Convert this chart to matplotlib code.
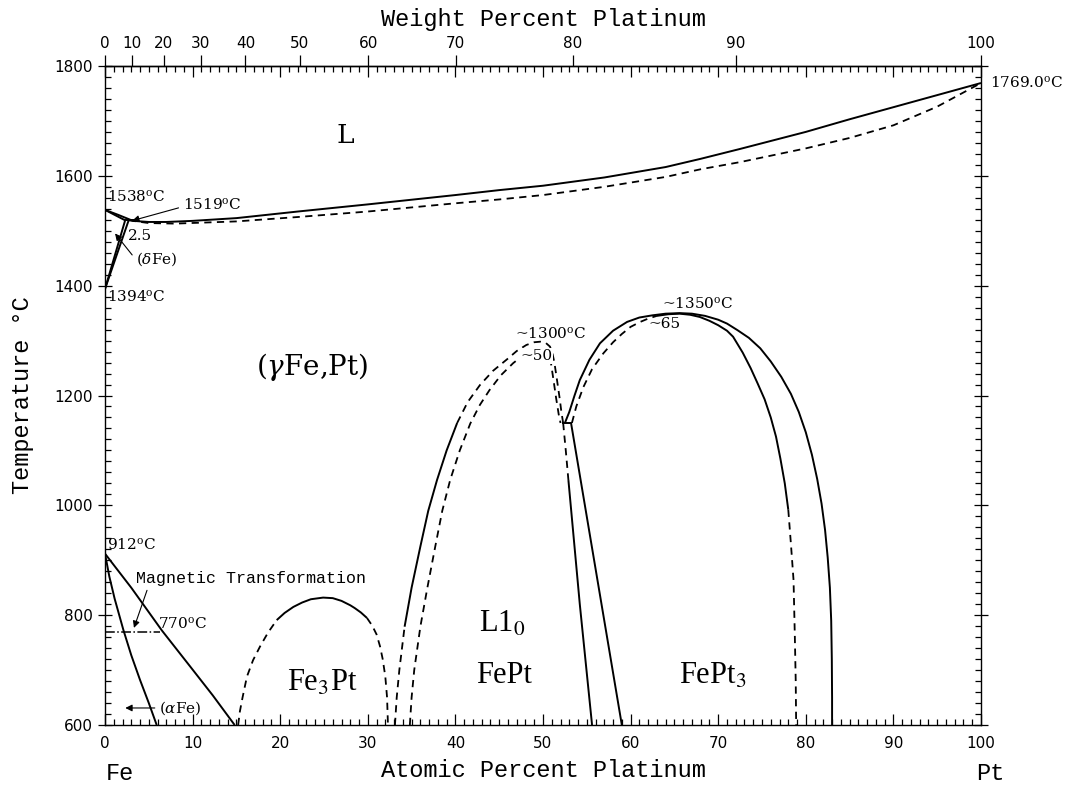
import numpy as np
import matplotlib
matplotlib.use('Agg')
from matplotlib import pyplot as plt
from matplotlib.ticker import MultipleLocator, FixedLocator

# liquidus and solidus (at% Pt, deg C)
liq_x = [0, 1.5, 3.2, 5, 7, 10, 15, 22, 30, 40, 45, 50, 57, 64, 68, 72.5, 80, 85, 90, 95, 100]
liq_T = [1538, 1529, 1518, 1516, 1516, 1518, 1523, 1535, 1548, 1565, 1574, 1582, 1597, 1616, 1631, 1649, 1680, 1703, 1725, 1747, 1769]
sol_x = [2.7, 5, 8, 15, 22, 30, 40, 45, 50, 57, 64, 68, 72.5, 80, 85, 90, 95, 100]
sol_T = [1519, 1514, 1513, 1517, 1525, 1535, 1550, 1557, 1565, 1580, 1598, 1612, 1625, 1650, 1669, 1692, 1726, 1769]

# delta loop
dsol_x = [0, 2.3]
dsol_T = [1538, 1519]
dleft_x = [0, 2.3]
dleft_T = [1394, 1519]
dright_x = [0, 2.7]
dright_T = [1394, 1519]
perit_x = [2.3, 3.4]
perit_T = [1519, 1519]

# alpha / gamma
alpha_x = [0, 0.5, 1.1, 2.1, 3.0, 4.0, 5.0, 5.9]
alpha_T = [912, 870, 830, 773, 727, 682, 640, 600]
gamma_x = [0, 3.0, 6.5, 9.7, 12.3, 14.8]
gamma_T = [912, 850, 772, 707, 654, 600]
mag_x = [0, 6.3]
mag_T = [770, 770]

# Fe3Pt
fe3pt_x = [15.2, 15.4, 15.7, 16.2, 16.9, 17.7, 18.6, 19.6, 20.5, 21.5, 22.5, 23.5, 24.9, 26.0, 27.0,
           28.0, 28.5, 29.2, 29.9, 30.5, 31.0, 31.4, 31.7, 32.0, 32.2, 32.3]
fe3pt_T = [600, 625, 650, 688, 718, 743, 768, 791, 804, 815, 823, 829, 832, 831, 826,
           818, 813, 805, 795, 781, 765, 743, 720, 688, 650, 600]

# L1_0 FePt
l10o_x = [33.1, 33.3, 33.6, 34.2, 35.0, 36.0, 36.9, 37.9, 39.0, 40.2, 41.4, 42.8, 44.3, 45.9, 47.0,
          48.1, 49.0, 49.7, 50.3, 50.8, 51.1, 51.3, 51.6, 51.9, 52.1, 52.3]
l10o_T = [600, 650, 700, 779, 850, 925, 990, 1046, 1100, 1150, 1188, 1219, 1245, 1266, 1281,
          1292, 1297, 1298, 1296, 1289, 1275, 1260, 1228, 1195, 1170, 1150]
l10i_x = [34.8, 35.0, 35.3, 36.0, 36.8, 37.7, 38.5, 39.4, 40.5, 41.7, 42.8, 43.9, 45.2, 46.6, 47.8,
          48.9, 49.6, 50.2, 50.6, 50.9, 51.2, 51.5, 51.8, 52.0]
l10i_T = [600, 650, 700, 779, 850, 925, 990, 1046, 1100, 1149, 1183, 1210, 1237, 1259, 1274,
          1283, 1286, 1284, 1277, 1260, 1228, 1195, 1165, 1150]
l10r_x = [52.3, 52.6, 52.9, 54.2, 55.6]
l10r_T = [1150, 1100, 1046, 820, 600]

# FePt3
fept3o_x = [52.5, 53.0, 53.6, 54.2, 55.3, 56.5, 58.0, 59.6, 61.0, 62.5, 64.0, 65.6, 67.0, 68.5, 70.0,
            71.0, 72.2, 73.5, 74.8, 76.0, 77.2, 78.3, 79.2, 80.0, 80.7, 81.3, 81.8, 82.2, 82.5,
            82.75, 82.9, 82.97, 83.0, 83.0]
fept3o_T = [1150, 1170, 1200, 1228, 1265, 1295, 1318, 1334, 1342, 1346, 1349, 1350, 1349, 1345, 1338,
            1331, 1319, 1305, 1286, 1262, 1234, 1203, 1170, 1133, 1092, 1048, 1003, 955, 905,
            850, 790, 720, 650, 600]
fept3i_x = [53.3, 53.8, 54.6, 55.6, 56.9, 58.0, 59.0, 60.0, 61.1, 62.0, 63.0,
            64.3, 65.6, 66.8, 67.9, 69.0, 70.0, 71.0, 71.7, 72.8, 73.7, 74.5, 75.3, 76.0, 76.6,
            77.1, 77.6, 78.0,
            78.3, 78.6, 78.75, 78.85, 78.9]
fept3i_T = [1150, 1180, 1215, 1248, 1277, 1297, 1312, 1325, 1334, 1340, 1345,
            1348, 1349, 1347, 1343, 1336, 1328, 1318, 1307, 1278, 1250, 1222, 1193, 1160, 1125,
            1085, 1040, 992,
            930, 864, 760, 680, 600]
fept3l_x = [53.2, 59.0]
fept3l_T = [1150, 600]
eut_x = [52.2, 53.3]
eut_T = [1150, 1150]


def at2wt(x):
    x = np.asarray(x, dtype=float)
    return 100 * 195.08 * x / (195.08 * x + 55.845 * (100 - x))


def wt2at(w):
    w = np.asarray(w, dtype=float)
    return 100 * (w / 195.08) / (w / 195.08 + (100 - w) / 55.845)


plt.rcParams['mathtext.fontset'] = 'dejavuserif'

fig = plt.figure(figsize=(10.67, 7.85), dpi=100)
ax = fig.add_axes([105 / 1067, 60 / 785, 876 / 1067, 659 / 785])

solid = dict(color='k', lw=1.4, solid_capstyle='butt')
dash = dict(color='k', lw=1.3, ls=(0, (4, 3)))


def plot_ds(xs, ts, x0, x1):
    # dashed - solid - dashed, solid part between x0 and x1
    i, j = xs.index(x0), xs.index(x1)
    ax.plot(xs[:i + 1], ts[:i + 1], **dash)
    ax.plot(xs[i:j + 1], ts[i:j + 1], **solid)
    ax.plot(xs[j:], ts[j:], **dash)


ax.plot(liq_x, liq_T, **solid)
ax.plot(sol_x, sol_T, **dash)
ax.plot(dsol_x, dsol_T, **solid)
ax.plot(dleft_x, dleft_T, **solid)
ax.plot(dright_x, dright_T, **solid)
ax.plot(perit_x, perit_T, **solid)

ax.plot(alpha_x, alpha_T, **solid)
ax.plot(gamma_x, gamma_T, **solid)
ax.plot(mag_x, mag_T, color='k', lw=1.1, ls='-.')

plot_ds(fe3pt_x, fe3pt_T, 19.6, 29.9)
plot_ds(l10o_x, l10o_T, 34.2, 40.2)
ax.plot(l10i_x, l10i_T, **dash)
ax.plot(l10r_x[:3], l10r_T[:3], **dash)
ax.plot(l10r_x[2:], l10r_T[2:], **solid)

ax.plot(fept3o_x, fept3o_T, **solid)
plot_ds(fept3i_x, fept3i_T, 63.0, 78.0)
ax.plot(fept3l_x, fept3l_T, **solid)
ax.plot(eut_x, eut_T, **solid)

ax.set_xlim(0, 100)
ax.set_ylim(600, 1800)

ax.xaxis.set_major_locator(MultipleLocator(10))
ax.xaxis.set_minor_locator(MultipleLocator(1))
ax.yaxis.set_major_locator(MultipleLocator(200))
ax.yaxis.set_minor_locator(MultipleLocator(20))
ax.tick_params(which='both', direction='in', top=True, right=True, width=0.9)
ax.tick_params(which='major', length=8)
ax.tick_params(which='minor', length=4.5)
ax.tick_params(axis='y', which='major', direction='inout', length=10)
ax.tick_params(axis='x', labelsize=11, pad=8)
ax.tick_params(axis='y', labelsize=11, pad=4)
for s in ax.spines.values():
    s.set_linewidth(1.0)

sec = ax.secondary_xaxis('top', functions=(at2wt, wt2at))
sec.xaxis.set_major_locator(FixedLocator(list(range(0, 101, 10))))
sec.xaxis.set_minor_locator(FixedLocator([]))
sec.tick_params(direction='out', length=8, width=0.9, labelsize=11, pad=3)
sec.spines['top'].set_linewidth(1.0)
sec.set_xlabel('Weight Percent Platinum', fontsize=17, family='Liberation Mono', labelpad=7)

ax.set_xlabel('Atomic Percent Platinum', fontsize=17, family='Liberation Mono', labelpad=6)
ax.set_ylabel('Temperature °C', fontsize=17, family='Liberation Mono', labelpad=14)

mono = dict(family='Liberation Mono', fontsize=17)
ax.text(1.7, 512, 'Fe', ha='center', va='center', clip_on=False, **mono)
ax.text(101, 512, 'Pt', ha='center', va='center', clip_on=False, **mono)

ann = dict(family='DejaVu Serif', fontsize=11)
arrow = dict(arrowstyle='-|>', color='k', lw=0.8, mutation_scale=10)
ax.text(101, 1769, '1769.0$^{\\rm o}$C', va='center', ha='left', clip_on=False, **ann)
ax.text(0.2, 1562, '1538$^{\\rm o}$C', va='center', ha='left', **ann)
ax.text(8.9, 1548, '1519$^{\\rm o}$C', va='center', ha='left', **ann)
ax.annotate('', xy=(2.8, 1517), xytext=(8.7, 1543), arrowprops=arrow)
ax.text(2.6, 1490, '2.5', va='center', ha='left', **ann)
ax.text(3.5, 1448, '($\\delta$Fe)', va='center', ha='left', **ann)
ax.annotate('', xy=(0.95, 1499), xytext=(3.3, 1452), arrowprops=arrow)
ax.text(0.2, 1381, '1394$^{\\rm o}$C', va='center', ha='left', **ann)
ax.text(0.2, 929, '912$^{\\rm o}$C', va='center', ha='left', **ann)
ax.text(6.0, 785, '770$^{\\rm o}$C', va='center', ha='left', **ann)
ax.text(3.5, 867, 'Magnetic Transformation', va='center', ha='left',
        family='Liberation Mono', fontsize=12)
ax.annotate('', xy=(3.2, 772), xytext=(4.9, 850), arrowprops=arrow)
ax.text(6.2, 631, '($\\alpha$Fe)', va='center', ha='left', **ann)
ax.annotate('', xy=(2.0, 631), xytext=(6.0, 631), arrowprops=arrow)
ax.text(50.9, 1313, '~1300$^{\\rm o}$C', va='center', ha='center', **ann)
ax.text(49.2, 1272, '~50', va='center', ha='center',
        bbox=dict(fc='white', ec='none', pad=0.5), **ann)
ax.text(67.6, 1368, '~1350$^{\\rm o}$C', va='center', ha='center', **ann)
ax.text(63.9, 1330, '~65', va='center', ha='center', **ann)

ax.text(27.4, 1674, 'L', va='center', ha='center', family='DejaVu Serif', fontsize=19)
ax.text(23.7, 1251, '($\\gamma$Fe,Pt)', va='center', ha='center', family='DejaVu Serif', fontsize=20)

big = dict(family='Liberation Serif', fontsize=22, math_fontfamily='stix')
ax.text(24.8, 676, 'Fe$_3$Pt', va='center', ha='center', **big)
ax.text(45.4, 784, 'L1$_0$', va='center', ha='center', **big)
ax.text(45.6, 691, 'FePt', va='center', ha='center', **big)
ax.text(69.4, 688, 'FePt$_3$', va='center', ha='center', **big)

fig.savefig('out.png', dpi=100)
